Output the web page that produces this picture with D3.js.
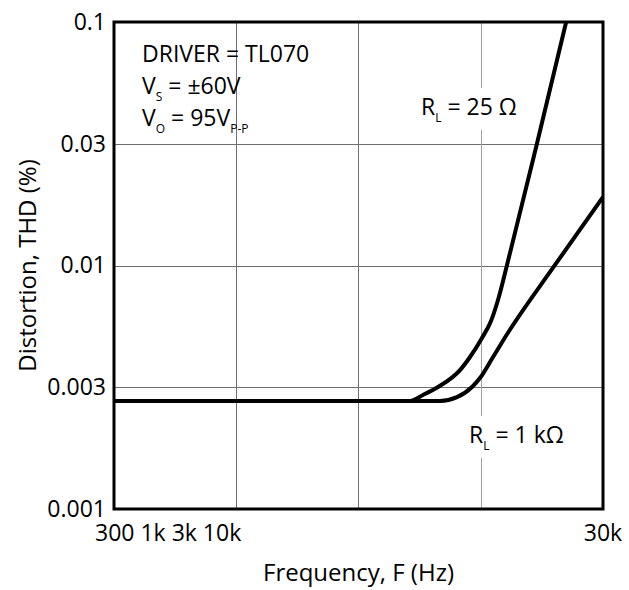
<!DOCTYPE html>
<html>
<head>
<meta charset="utf-8">
<script src="https://cdn.jsdelivr.net/npm/d3@7"></script>
<style>
	body { margin: 0; background: #fff; }
	svg text { font-family: "Open Sans", Lato, sans-serif; fill: #000; }
</style>
</head>
<body>
<svg id="chart" width="629" height="590"></svg>
<script>
// frequencies in Hz, distortion in %
var freq25 = [300, 4872, 5508, 6344, 7804, 8574, 9598, 10450, 11160, 12150, 16120, 21200];
var thd25 = [0.00278, 0.00278, 0.00294, 0.00317, 0.00372, 0.00421, 0.00504, 0.00592, 0.00722, 0.01005, 0.0318, 0.1];
var freq1k = [300, 6463, 7586, 8738, 9419, 10650, 12150, 19090, 30000];
var thd1k = [0.00278, 0.00278, 0.00288, 0.00317, 0.00345, 0.00421, 0.00522, 0.01005, 0.0191];

var yTickValues = [0.1, 0.0316, 0.01, 0.00316, 0.001];
var yTickLabels = ['0.1', '0.03', '0.01', '0.003', '0.001'];
var xGridValues = [949, 3000, 9487];

var svg, x, y, margin, line, plot, notes;

margin = {left: 114, right: 603, top: 22, bottom: 509};
svg = d3.select('#chart');

x = d3.scaleLog().domain([300, 30000]).range([margin.left, margin.right]);
y = d3.scaleLog().domain([0.001, 0.1]).range([margin.bottom, margin.top]);

svg.append('clipPath').attr('id', 'clip')
	.append('rect')
	.attr('x', margin.left).attr('y', margin.top)
	.attr('width', margin.right - margin.left)
	.attr('height', margin.bottom - margin.top);

// grid
svg.append('g').selectAll('line')
	.data(yTickValues.slice(1, -1))
	.enter().append('line')
	.attr('x1', margin.left).attr('x2', margin.right)
	.attr('y1', function(d){ return Math.round(y(d)) + 0.5; })
	.attr('y2', function(d){ return Math.round(y(d)) + 0.5; })
	.attr('stroke', '#6e6e6e').attr('stroke-width', 1);

svg.append('g').selectAll('line')
	.data(xGridValues)
	.enter().append('line')
	.attr('y1', margin.top).attr('y2', margin.bottom)
	.attr('x1', function(d){ return Math.round(x(d)) + 0.5; })
	.attr('x2', function(d){ return Math.round(x(d)) + 0.5; })
	.attr('stroke', function(d, i){ return i === 2 ? '#a0a0a0' : '#6e6e6e'; })
	.attr('stroke-width', 1);

// annotation layer sits above grid, below curves
notes = svg.append('g');

// curves
line = d3.line()
	.x(function(d){ return x(d[0]); })
	.y(function(d){ return y(d[1]); })
	.curve(d3.curveMonotoneX);

plot = svg.append('g').attr('clip-path', 'url(#clip)');
[[freq25, thd25], [freq1k, thd1k]].forEach(function(s){
	plot.append('path')
		.datum(d3.zip(s[0], s[1]))
		.attr('d', line)
		.attr('fill', 'none')
		.attr('stroke', '#000')
		.attr('stroke-width', 4)
		.attr('stroke-linejoin', 'round');
});

// frame
svg.append('rect')
	.attr('x', margin.left).attr('y', margin.top)
	.attr('width', margin.right - margin.left)
	.attr('height', margin.bottom - margin.top)
	.attr('fill', 'none').attr('stroke', '#000').attr('stroke-width', 3);

// y axis labels
svg.append('g')
	.attr('transform', 'translate(' + margin.left + ',0)')
	.call(d3.axisLeft(y).tickValues(yTickValues).tickSize(0).tickPadding(8)
		.tickFormat(function(d, i){ return yTickLabels[i]; }))
	.call(function(g){
		g.select('.domain').remove();
		g.selectAll('text').style('font-size', '23px').attr('font-family', null);
	});

// x labels
svg.append('text')
	.attr('x', x(300) - 19).attr('y', 541)
	.style('font-size', '23px')
	.text('300 1k 3k 10k');
svg.append('text')
	.attr('x', x(30000)).attr('y', 541)
	.attr('text-anchor', 'middle')
	.style('font-size', '23px')
	.text('30k');

// titles
svg.append('text')
	.attr('x', (margin.left + margin.right) / 2).attr('y', 581)
	.attr('text-anchor', 'middle')
	.style('font-size', '24px')
	.text('Frequency, F (Hz)');
svg.append('text')
	.attr('transform', 'translate(36,' + (margin.top + margin.bottom) / 2 + ') rotate(-90)')
	.attr('text-anchor', 'middle')
	.style('font-size', '24px')
	.text('Distortion, THD (%)');

// annotations
function sub(t, main, s, rest) {
	t.append('tspan').text(main);
	t.append('tspan').attr('dy', 7).style('font-size', '12px').text(s);
	t.append('tspan').attr('dy', -7).text(rest);
}

notes.append('text').attr('x', 142).attr('y', 62).style('font-size', '23px').text('DRIVER = TL070');
notes.append('text').attr('x', 142).attr('y', 94).style('font-size', '23px')
	.call(sub, 'V', 'S', ' = \u00b160V');
notes.append('text').attr('x', 142).attr('y', 126).style('font-size', '23px')
	.call(function(t){
		sub(t, 'V', 'O', ' = 95V');
		t.append('tspan').attr('dy', 7).style('font-size', '12px').text('P-P');
	});

function label(px, py, rest) {
	var t, b;
	t = notes.append('text').attr('x', px).attr('y', py).style('font-size', '23px')
		.call(sub, 'R', 'L', rest);
	b = t.node().getBBox();
	notes.insert('rect', function(){ return t.node(); })
		.attr('x', b.x - 2).attr('y', b.y - 2)
		.attr('width', b.width + 4).attr('height', b.height + 6)
		.attr('fill', '#fff');
}
label(421, 115, ' = 25 \u03a9');
label(469, 443, ' = 1 k\u03a9');
</script>
</body>
</html>
